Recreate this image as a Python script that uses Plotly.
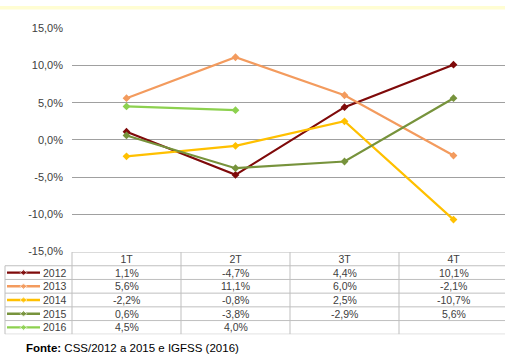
import plotly.graph_objects as go

# Quarterly growth rates (%), by year
quarters = ["1T", "2T", "3T", "4T"]
years = ["2012", "2013", "2014", "2015", "2016"]
v2012 = [1.1, -4.7, 4.4, 10.1]
v2013 = [5.6, 11.1, 6.0, -2.1]
v2014 = [-2.2, -0.8, 2.5, -10.7]
v2015 = [0.6, -3.8, -2.9, 5.6]
v2016 = [4.5, 4.0, None, None]
y_ticks = [-15, -10, -5, 0, 5, 10, 15]
source_note = "<b>Fonte:</b> CSS/2012 a 2015 e IGFSS (2016)"

series = [v2012, v2013, v2014, v2015, v2016]
colors = ["#7F0A0A", "#F39B5E", "#FFC000", "#77933C", "#8DD14F"]

W, H = 505, 362
FONT = "Liberation Sans, Arial, sans-serif"
TXT = "#404040"
GRID = "#a0a0a0"
TLINE = "#bfbfbf"


def px_x(p):
    return p / W


def px_y(p):
    return 1 - p / H


def fmt(v):
    return f"{v:.1f}".replace(".", ",") + "%"


plot_left, plot_top, plot_bottom = 72, 23, 254
table_top, table_bottom = 254.5, 339.5

fig = go.Figure()

for name, vals, col in zip(years, series, colors):
    fig.add_trace(go.Scatter(
        x=quarters, y=vals, name=name, mode="lines+markers",
        line=dict(color=col, width=2.2),
        marker=dict(symbol="diamond", size=6, color=col),
        connectgaps=False, showlegend=False, xaxis="x", yaxis="y",
    ))

# legend swatches in the first table column (row 0 is the header)
for i, (name, col) in enumerate(zip(years, colors)):
    r = i + 1.5
    fig.add_trace(go.Scatter(
        x=[7, 23.5, 40], y=[r, r, r], mode="lines+markers",
        line=dict(color=col, width=2.4),
        marker=dict(symbol="diamond", size=[0, 5, 0], color=col),
        showlegend=False, hoverinfo="skip", xaxis="x2", yaxis="y2",
        cliponaxis=False,
    ))

annotations = []
for i, (name, vals) in enumerate(zip(years, series)):
    r = i + 1.5
    annotations.append(dict(
        x=41, y=r, xref="x2", yref="y2", text=name, showarrow=False,
        xanchor="left", yanchor="middle", font=dict(size=10.5, color=TXT, family=FONT),
    ))
    for q, v in zip(quarters, vals):
        if v is None:
            continue
        annotations.append(dict(
            x=q, y=r, xref="x", yref="y2", text=fmt(v), showarrow=False,
            xanchor="center", yanchor="middle", font=dict(size=10.5, color=TXT, family=FONT),
        ))

annotations.append(dict(
    x=px_x(24), y=px_y(354), xref="paper", yref="paper", text=source_note,
    showarrow=False, xanchor="left", yanchor="middle",
    font=dict(size=11.5, color="#000000", family=FONT),
))

shapes = [
    # pale band along the top edge
    dict(type="rect", xref="paper", yref="paper", x0=0, x1=1, y0=px_y(3.5), y1=1,
         fillcolor="#FFFDD2", line=dict(width=0), layer="below"),
]
# table horizontal rules
shapes.append(dict(type="line", xref="paper", yref="y2", x0=px_x(plot_left), x1=1,
                   y0=0, y1=0, line=dict(color=TLINE, width=1)))
for k in range(1, 7):
    shapes.append(dict(type="line", xref="paper", yref="y2", x0=px_x(5), x1=1,
                       y0=k, y1=k, line=dict(color=TLINE, width=1)))
# table vertical rules
shapes.append(dict(type="line", xref="paper", yref="y2", x0=px_x(5), x1=px_x(5),
                   y0=1, y1=6, line=dict(color=TLINE, width=1)))
shapes.append(dict(type="line", xref="paper", yref="y2", x0=px_x(plot_left), x1=px_x(plot_left),
                   y0=0, y1=6, line=dict(color=TLINE, width=1)))
for b in [0.5, 1.5, 2.5]:
    shapes.append(dict(type="line", xref="x", yref="y2", x0=b, x1=b,
                       y0=0, y1=6, line=dict(color=TLINE, width=1)))

fig.update_layout(
    width=W, height=H,
    margin=dict(l=0, r=0, t=0, b=0),
    paper_bgcolor="white", plot_bgcolor="white",
    font=dict(family=FONT, color=TXT, size=10.5),
    xaxis=dict(
        type="category", categoryorder="array", categoryarray=quarters,
        domain=[px_x(plot_left), 1], range=[-0.5, -0.5 + (W - plot_left) / 109.0],
        showgrid=False, zeroline=False, showline=False, ticks="",
        tickfont=dict(size=10.5, color=TXT, family=FONT), anchor="y",
    ),
    yaxis=dict(
        domain=[px_y(plot_bottom), px_y(plot_top)], range=[-15, 15],
        tickvals=y_ticks, ticktext=[fmt(t) for t in y_ticks],
        showgrid=True, gridcolor=GRID, gridwidth=1, zeroline=False,
        showline=False, ticks="", ticklabelstandoff=8,
        tickfont=dict(size=11, color=TXT, family=FONT), anchor="x",
    ),
    xaxis2=dict(domain=[0, px_x(plot_left)], range=[0, plot_left], visible=False,
                anchor="y2", fixedrange=True),
    yaxis2=dict(domain=[px_y(table_bottom), px_y(table_top)], range=[6, 0],
                visible=False, anchor="x2", fixedrange=True),
    shapes=shapes,
    annotations=annotations,
    hovermode=False,
)

fig.write_html("out.html")
